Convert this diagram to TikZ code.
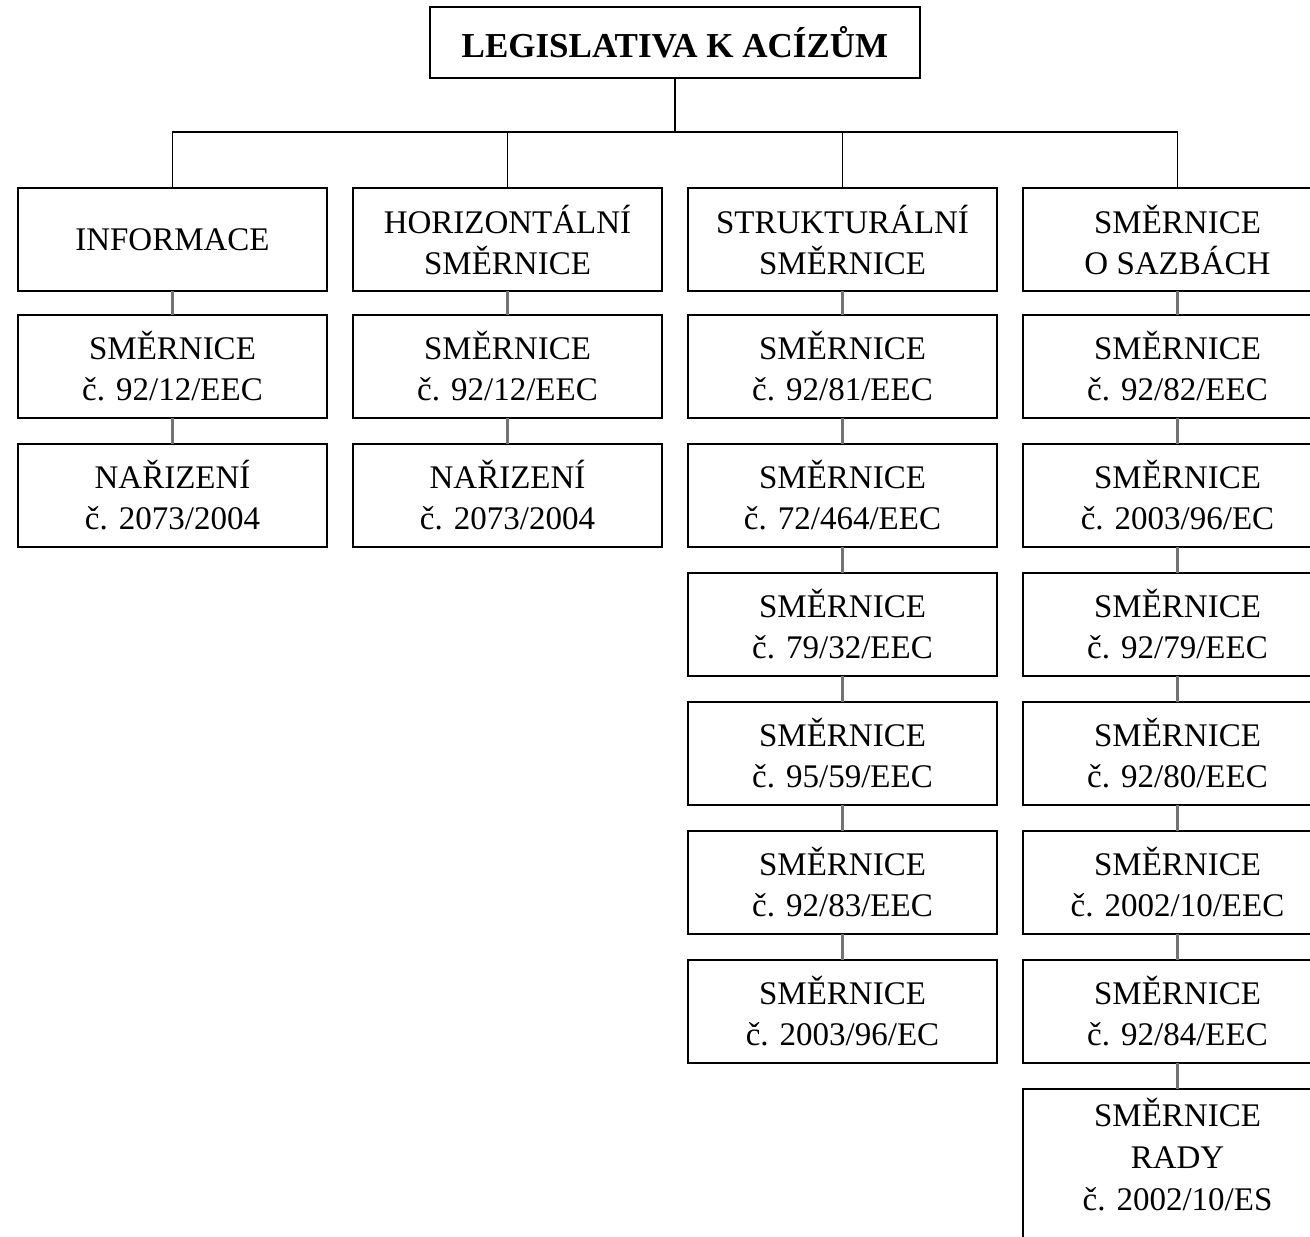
\documentclass[tikz,border=0pt]{standalone}
\usepackage{fontspec}
\setmainfont{Liberation Serif}
\usepackage{tikz}
\usetikzlibrary{positioning}
\tikzset{
    plain-box/.style = {draw=black, fill=white, line width=1.6pt, rectangle, align=center, outer sep=0pt,
        minimum width=309pt, minimum height=103pt, inner sep=2pt, font=\fontsize{33}{41}\selectfont},
    title-box/.style = {draw=black, fill=white, line width=1.6pt, rectangle, outer sep=0pt,
        minimum width=490pt, minimum height=71pt, font=\bfseries\fontsize{35}{41}\selectfont},
    tree-line/.style = {draw=black, line width=1.6pt},
    link-line/.style = {draw=black!55, line width=2.4pt},
}

\begin{document}
\begin{tikzpicture}[x=1pt, y=-1pt]
\fill[white] (0,0) rectangle (1310,1237);
\useasboundingbox (0,0) rectangle (1310,1237);
\clip (0,0) rectangle (1310,1237);

\node [title-box] (root) at (675,42.5) {LEGISLATIVA K ACÍZŮM};

% first row
\node [plain-box, anchor=north] (info) at (172.5,188) {INFORMACE};
\node [plain-box, anchor=north] (horiz) at (507.5,188) {HORIZONTÁLNÍ\\SMĚRNICE};
\node [plain-box, anchor=north] (strukt) at (842.5,188) {STRUKTURÁLNÍ\\SMĚRNICE};
\node [plain-box, anchor=north] (sazby) at (1177.5,188) {SMĚRNICE\\O SAZBÁCH};

% informace
\node [plain-box, below=24pt of info] (info-1) {SMĚRNICE\\č. 92/12/EEC};
\node [plain-box, below=26pt of info-1] (info-2) {NAŘIZENÍ\\č. 2073/2004};

% horizontalni
\node [plain-box, below=24pt of horiz] (horiz-1) {SMĚRNICE\\č. 92/12/EEC};
\node [plain-box, below=26pt of horiz-1] (horiz-2) {NAŘIZENÍ\\č. 2073/2004};

% strukturalni
\node [plain-box, below=24pt of strukt] (strukt-1) {SMĚRNICE\\č. 92/81/EEC};
\node [plain-box, below=26pt of strukt-1] (strukt-2) {SMĚRNICE\\č. 72/464/EEC};
\node [plain-box, below=26pt of strukt-2] (strukt-3) {SMĚRNICE\\č. 79/32/EEC};
\node [plain-box, below=26pt of strukt-3] (strukt-4) {SMĚRNICE\\č. 95/59/EEC};
\node [plain-box, below=26pt of strukt-4] (strukt-5) {SMĚRNICE\\č. 92/83/EEC};
\node [plain-box, below=26pt of strukt-5] (strukt-6) {SMĚRNICE\\č. 2003/96/EC};

% sazby
\node [plain-box, below=24pt of sazby] (sazby-1) {SMĚRNICE\\č. 92/82/EEC};
\node [plain-box, below=26pt of sazby-1] (sazby-2) {SMĚRNICE\\č. 2003/96/EC};
\node [plain-box, below=26pt of sazby-2] (sazby-3) {SMĚRNICE\\č. 92/79/EEC};
\node [plain-box, below=26pt of sazby-3] (sazby-4) {SMĚRNICE\\č. 92/80/EEC};
\node [plain-box, below=26pt of sazby-4] (sazby-5) {SMĚRNICE\\č. 2002/10/EEC};
\node [plain-box, below=26pt of sazby-5] (sazby-6) {SMĚRNICE\\č. 92/84/EEC};
\node [plain-box, below=26pt of sazby-6, minimum height=156pt, text depth=26pt,
    font=\fontsize{33}{42}\selectfont] (sazby-7) {SMĚRNICE\\RADY\\č. 2002/10/ES};

% tree
\coordinate (bus) at (0,132);
\draw [tree-line] (root.south) -- (root.south |- bus);
\draw [tree-line] (info.north) -- (info.north |- bus) -- (sazby.north |- bus) -- (sazby.north);
\draw [tree-line] (horiz.north) -- (horiz.north |- bus);
\draw [tree-line] (strukt.north) -- (strukt.north |- bus);

% links
\draw [link-line] (info) -- (info-1);
\draw [link-line] (info-1) -- (info-2);
\draw [link-line] (horiz) -- (horiz-1);
\draw [link-line] (horiz-1) -- (horiz-2);
\draw [link-line] (strukt) -- (strukt-1);
\draw [link-line] (strukt-1) -- (strukt-2);
\draw [link-line] (strukt-2) -- (strukt-3);
\draw [link-line] (strukt-3) -- (strukt-4);
\draw [link-line] (strukt-4) -- (strukt-5);
\draw [link-line] (strukt-5) -- (strukt-6);
\draw [link-line] (sazby) -- (sazby-1);
\draw [link-line] (sazby-1) -- (sazby-2);
\draw [link-line] (sazby-2) -- (sazby-3);
\draw [link-line] (sazby-3) -- (sazby-4);
\draw [link-line] (sazby-4) -- (sazby-5);
\draw [link-line] (sazby-5) -- (sazby-6);
\draw [link-line] (sazby-6) -- (sazby-7);
\end{tikzpicture}
\end{document}
